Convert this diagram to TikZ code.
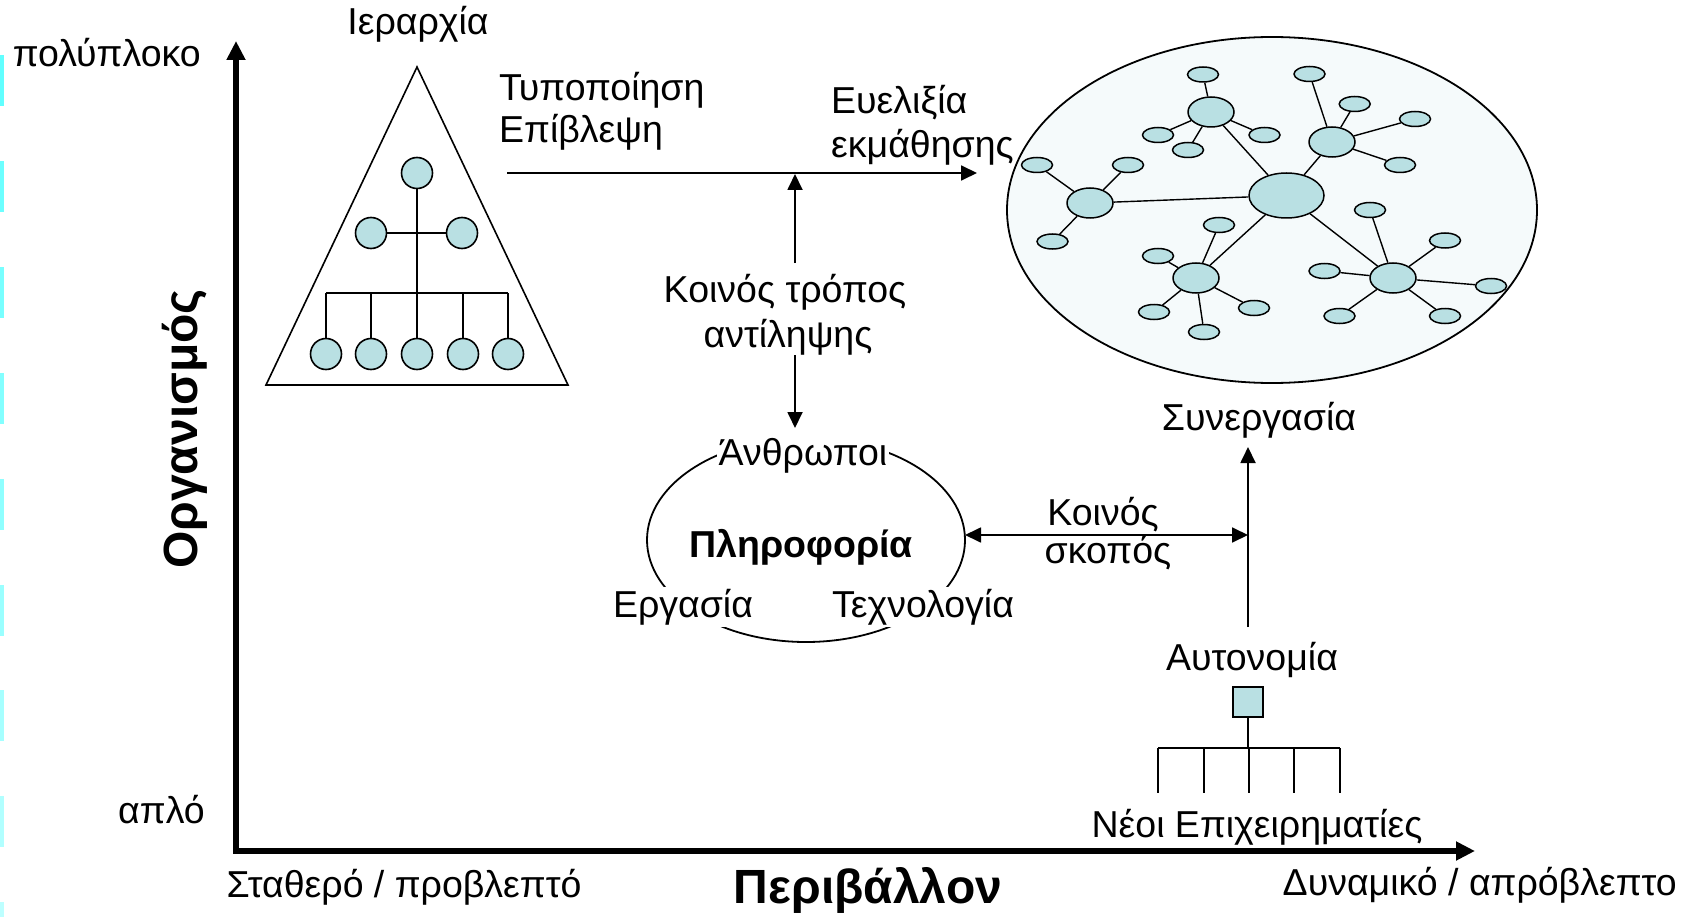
\documentclass[tikz,border=0pt]{standalone}
\usepackage{fontspec}
\setmainfont{Liberation Sans}
\usetikzlibrary{arrows.meta,shapes.geometric}
\definecolor{nodefill}{RGB}{185,224,227}
\definecolor{netbg}{RGB}{245,250,251}
\definecolor{cy}{RGB}{0,255,255}
\newcommand\txtsz{\fontsize{37.5}{45}\selectfont}
\begin{document}
\begin{tikzpicture}[x=1pt,y=-1pt,
  lbl/.style={font=\txtsz, inner sep=0pt, anchor=base},
  wlbl/.style={lbl, fill=white, inner sep=2pt},
  blbl/.style={font=\fontsize{48}{54}\selectfont\bfseries, inner sep=0pt, anchor=base},
  axisline/.style={line width=5.5pt, line join=miter},
  thin/.style={line width=1.8pt},
  arr/.style={thin, -{Triangle[length=16pt,width=15pt]}},
  dot/.style={circle, draw, line width=1.6pt, fill=nodefill, minimum size=31pt, inner sep=0pt},
  leaf/.style={ellipse, draw, line width=1.5pt, fill=nodefill, minimum width=31pt, minimum height=15pt, inner sep=0pt},
  hub/.style={ellipse, draw, line width=1.5pt, fill=nodefill, minimum width=46pt, minimum height=30pt, inner sep=0pt},
  netedge/.style={line width=1.4pt}]
\useasboundingbox (0,0) rectangle (1685,917);
% left edge marks
\foreach \k in {0,...,8}{
  \pgfmathsetmacro\p{62-4.5*\k}
  \pgfmathsetmacro\yy{55+105.9*\k}
  \fill[cy!\p!white] (0,\yy) rectangle (3.5,\yy+51);
}
% axes
\coordinate (O) at (236,851);
\coordinate (ytop) at (236,41);
\coordinate (xend) at (1475,851);
\draw[axisline, {Triangle[length=19pt,width=18pt]}-{Triangle[length=19pt,width=18pt]}] (ytop) -- (O) -- (xend);
% axis labels
\node[lbl, anchor=base east] (poly) at (201,67) {πολύπλοκο};
\node[lbl, anchor=base east] (aplo) at (205,823) {απλό};
\node[font=\fontsize{48}{54}\selectfont\bfseries, inner sep=0pt, anchor=base, rotate=90] (org) at (197,429) {Οργανισμός};
\node[lbl] (stath) at (404,897) {Σταθερό / προβλεπτό};
\node[blbl] (periv) at (868,903) {Περιβάλλον};
\node[lbl, anchor=base east] (dyn) at (1677,895) {Δυναμικό / απρόβλεπτο};
% hierarchy triangle
\node[lbl] (ierar) at (418,35) {Ιεραρχία};
\coordinate (apex) at (417,67);
\coordinate (bl) at (266,385);
\coordinate (br) at (568,385);
\draw[line width=1.6pt, line join=miter] (apex) -- (bl) -- (br) -- cycle;
\coordinate (bus) at (417,293);
\node[dot] (t) at (417,173) {};
\node[dot] (m1) at (371,233) {};
\node[dot] (m2) at (462,233) {};
\draw[thin] (t) -- (bus);
\draw[thin] (m1) -- (m2);
\draw[thin] (326,293) -- (508,293);
\foreach \i/\x in {1/326,2/371,3/417,4/463,5/508}{
  \node[dot] (b\i) at (\x,354) {};
  \draw[thin] (b\i) -- (b\i |- bus);
}
% top arrow and labels
\node[lbl, anchor=base west] (typ) at (499,101) {Τυποποίηση};
\node[lbl, anchor=base west] (epi) at (499,143) {Επίβλεψη};
\node[lbl, anchor=base west] (eve) at (831,114) {Ευελιξία};
\node[lbl, anchor=base west] (ekm) at (831,158) {εκμάθησης};
\coordinate (hs) at (507,173);
\coordinate (he) at (977,173);
\draw[arr] (hs) -- (he);
\node[lbl] (koin1) at (785,302) {Κοινός τρόπος};
\node[lbl] (koin2) at (788,347) {αντίληψης};
\coordinate (vu1) at (795,263);
\coordinate (vu2) at (795,174);
\coordinate (vd1) at (795,355);
\coordinate (vd2) at (795,428);
\draw[arr] (vu1) -- (vu2);
\draw[arr] (vd1) -- (vd2);
% information ring
\node[ellipse, draw, line width=1.8pt, minimum width=318pt, minimum height=204pt, inner sep=0pt] (ring) at (806,540) {};
\node[wlbl] (anth) at (803,465) {Άνθρωποι};
\node[lbl, font=\fontsize{37.5}{45}\selectfont\bfseries] (plir) at (801,557) {Πληροφορία};
\node[wlbl] (erg) at (683,617) {Εργασία};
\node[wlbl] (tech) at (923,617) {Τεχνολογία};
% common purpose
\coordinate (cl) at (965,535);
\coordinate (cr) at (1248,535);
\draw[thin, {Triangle[length=16pt,width=15pt]}-{Triangle[length=16pt,width=15pt]}] (cl) -- (cr);
\node[lbl] (koin3) at (1103,525) {Κοινός};
\node[lbl] (skop) at (1108,563) {σκοπός};
% cooperation / autonomy
\node[lbl] (syn) at (1259,430) {Συνεργασία};
\node[lbl] (aut) at (1252,670) {Αυτονομία};
\coordinate (au1) at (1248,627);
\coordinate (au2) at (1248,447);
\draw[arr] (au1) -- (au2);
\node[draw, line width=1.6pt, fill=nodefill, minimum size=30pt, inner sep=0pt] (sq) at (1248,702) {};
\coordinate (bus2) at (1248,748);
\draw[thin] (sq) -- (bus2);
\draw[thin] (1158,748) -- (1340,748);
\foreach \x in {1158,1204,1249,1294,1340}{
  \draw[thin] (\x,748) -- (\x,793);
}
\node[lbl] (neoi) at (1257,837) {Νέοι Επιχειρηματίες};
% network
\node[ellipse, draw, line width=1.8pt, fill=netbg, minimum width=530pt, minimum height=346pt, inner sep=0pt] (net) at (1272,210) {};
\node[ellipse, draw, line width=1.5pt, fill=nodefill, minimum width=75pt, minimum height=45pt, inner sep=0pt] (C) at (1286.5,195.5) {};
\node[hub] (H1) at (1211,112) {};
\node[hub] (H2) at (1332,142) {};
\node[hub] (H3) at (1090,203) {};
\node[hub] (H4) at (1196,278) {};
\node[hub] (H5) at (1393,278) {};
\foreach \h in {H1,H2,H3,H4,H5}{\draw[netedge] (C) -- (\h);}
\foreach \n/\h/\x/\y in {
  a1/H1/1203/74.5, a2/H1/1158/135, a3/H1/1188/150, a4/H1/1264.5/135,
  b1/H2/1309.5/74, b2/H2/1354.7/104, b3/H2/1415/119, b4/H2/1400/165,
  c1/H3/1037/165, c2/H3/1128/165, c3/H3/1052.5/241.5,
  d1/H4/1219/225, d2/H4/1158/256, d3/H4/1254/308, d4/H4/1154/312, d5/H4/1204/332,
  e1/H5/1370/210, e2/H5/1445/240.5, e3/H5/1491/286, e4/H5/1445/316, e5/H5/1339.5/316, e6/H5/1324.5/271}{
  \node[leaf] (\n) at (\x,\y) {};
  \draw[netedge] (\h) -- (\n);
}
\end{tikzpicture}
\end{document}
